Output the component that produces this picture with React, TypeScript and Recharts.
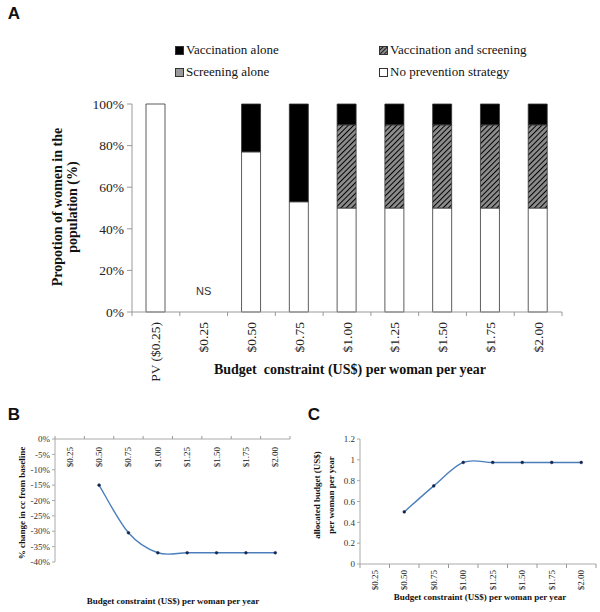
import React from "react";
import {
  Bar,
  BarChart,
  Line,
  LineChart,
  XAxis,
  YAxis,
} from "recharts";

// Panel A
const strategyCats = ["PV ($0.25)", "$0.25", "$0.50", "$0.75", "$1.00", "$1.25", "$1.50", "$1.75", "$2.00"];
const noPrevention = [100, null, 77, 53, 50, 50, 50, 50, 50];
const screeningAlone = [0, null, 0, 0, 0, 0, 0, 0, 0];
const vaccScreening = [0, null, 0, 0, 40, 40, 40, 40, 40];
const vaccAlone = [0, null, 23, 47, 10, 10, 10, 10, 10];
const notes = ["", "NS", "", "", "", "", "", "", ""];
const pctTicks = [0, 20, 40, 60, 80, 100];

// Panels B and C
const budgetCats = ["$0.25", "$0.50", "$0.75", "$1.00", "$1.25", "$1.50", "$1.75", "$2.00"];
const ccChange = [null, -15, -30.5, -37, -37, -37, -37, -37];
const allocated = [null, 0.5, 0.75, 0.975, 0.975, 0.975, 0.975, 0.975];
const ccTicks = [0, -5, -10, -15, -20, -25, -30, -35, -40];
const budgetTicks = [0, 0.2, 0.4, 0.6, 0.8, 1, 1.2];

const stackData = strategyCats.map((name, i) => ({
  name,
  none: noPrevention[i],
  screen: screeningAlone[i],
  both: vaccScreening[i],
  vacc: vaccAlone[i],
  note: notes[i],
}));

const lineData = budgetCats.map((name, i) => ({
  name,
  cc: ccChange[i],
  alloc: allocated[i],
}));

const serif = '"Liberation Serif", "Times New Roman", serif';
const sans = '"Liberation Sans", Arial, sans-serif';

// excel-like smoothed line (catmull-rom through the points)
function excelSmooth(context: any) {
  let pts: number[][] = [];
  return {
    areaStart() {},
    areaEnd() {},
    lineStart() {
      pts = [];
    },
    point(x: number, y: number) {
      pts.push([+x, +y]);
    },
    lineEnd() {
      const n = pts.length;
      if (!n) return;
      context.moveTo(pts[0][0], pts[0][1]);
      for (let i = 0; i < n - 1; i++) {
        const p0 = pts[Math.max(i - 1, 0)];
        const p1 = pts[i];
        const p2 = pts[i + 1];
        const p3 = pts[Math.min(i + 2, n - 1)];
        context.bezierCurveTo(
          p1[0] + (p2[0] - p0[0]) / 6,
          p1[1] + (p2[1] - p0[1]) / 6,
          p2[0] - (p3[0] - p1[0]) / 6,
          p2[1] - (p3[1] - p1[1]) / 6,
          p2[0],
          p2[1]
        );
      }
    },
  };
}

function CatTick(props: any) {
  const { x, y, payload, index, half, count, up, gap, fontSize, note } = props;
  const tickEnd = up ? y - 3 : y + 4;
  const ty = y + gap;
  return (
    <g>
      <line x1={x - half} y1={y} x2={x - half} y2={tickEnd} stroke="#999" strokeWidth={1} />
      {index === count - 1 && (
        <line x1={x + half} y1={y} x2={x + half} y2={tickEnd} stroke="#999" strokeWidth={1} />
      )}
      <text
        x={x}
        y={ty}
        transform={`rotate(-90 ${x} ${ty})`}
        textAnchor="end"
        dominantBaseline="central"
        fontFamily={serif}
        fontSize={fontSize}
        fill="#222"
      >
        {payload.value}
      </text>
      {note && note[index] ? (
        <text x={x} y={y - 17} textAnchor="middle" fontFamily={sans} fontSize={11} fill="#333">
          {note[index]}
        </text>
      ) : null}
    </g>
  );
}

function Swatch({ kind }: { kind: string }) {
  const fill =
    kind === "black" ? "#000" : kind === "gray" ? "#9a9a9a" : kind === "hatch" ? "url(#hatchLegend)" : "#fff";
  return (
    <svg width={9} height={9} style={{ marginRight: 2, flex: "none" }}>
      <defs>
        <pattern id="hatchLegend" patternUnits="userSpaceOnUse" width={3} height={3} patternTransform="rotate(45)">
          <rect width={3} height={3} fill="#8c8c8c" />
          <line x1={0} y1={0} x2={0} y2={3} stroke="#000" strokeWidth={1.6} />
        </pattern>
      </defs>
      <rect x={0.5} y={0.5} width={8} height={8} fill={fill} stroke="#333" strokeWidth={1} />
    </svg>
  );
}

function LegendItem({ kind, label, left, top }: { kind: string; label: string; left: number; top: number }) {
  return (
    <div
      style={{
        position: "absolute",
        left,
        top,
        display: "flex",
        alignItems: "center",
        fontFamily: serif,
        fontSize: 13,
        color: "#111",
        whiteSpace: "nowrap",
      }}
    >
      <Swatch kind={kind} />
      {label}
    </div>
  );
}

function Txt({ x, y, size, children, rotate, bold = true, family = serif, lh }: any) {
  return (
    <div
      style={{
        position: "absolute",
        left: x,
        top: y,
        transform: `translate(-50%, -50%)${rotate ? " rotate(-90deg)" : ""}`,
        fontFamily: family,
        fontSize: size,
        fontWeight: bold ? "bold" : "normal",
        whiteSpace: "nowrap",
        textAlign: "center",
        lineHeight: lh ? `${lh}px` : "normal",
        color: "#111",
      }}
    >
      {children}
    </div>
  );
}

export default function App() {
  return (
    <div style={{ position: "absolute", left: 0, top: 0, width: 600, height: 612, background: "#fff", overflow: "hidden" }}>
      <Txt x={14} y={14} size={17} family={sans}>A</Txt>
      <Txt x={14} y={415} size={17} family={sans}>B</Txt>
      <Txt x={314} y={415} size={17} family={sans}>C</Txt>

      <LegendItem kind="black" label="Vaccination alone" left={175} top={42} />
      <LegendItem kind="hatch" label="Vaccination and screening" left={379} top={42} />
      <LegendItem kind="gray" label="Screening alone" left={175} top={64} />
      <LegendItem kind="white" label="No prevention strategy" left={379} top={64} />

      <div style={{ position: "absolute", left: 0, top: 0 }}>
        <BarChart width={600} height={400} data={stackData} margin={{ top: 104, right: 38, bottom: 28, left: 0 }} barSize={19}>
          <defs>
            <pattern id="hatchBar" patternUnits="userSpaceOnUse" width={3.8} height={3.8} patternTransform="rotate(45)">
              <rect width={3.8} height={3.8} fill="#8c8c8c" />
              <line x1={0} y1={0} x2={0} y2={3.8} stroke="#000" strokeWidth={2} />
            </pattern>
          </defs>
          <XAxis
            dataKey="name"
            height={60}
            interval={0}
            tickSize={0}
            tickMargin={0}
            tickLine={false}
            stroke="#999"
            tick={(p: any) => (
              <CatTick {...p} half={430 / 18} count={strategyCats.length} gap={10} fontSize={13.5} note={notes} />
            )}
          />
          <YAxis
            width={132}
            domain={[0, 100]}
            ticks={pctTicks}
            interval={0}
            tickFormatter={(v: number) => `${v}%`}
            tickSize={5}
            tickMargin={3}
            stroke="#999"
            tick={{ fontFamily: serif, fontSize: 13.5, fill: "#222" }}
          />
          <Bar dataKey="none" stackId="s" fill="#fff" stroke="#333" strokeWidth={0.8} isAnimationActive={false} />
          <Bar dataKey="screen" stackId="s" fill="#9a9a9a" stroke="#333" strokeWidth={0.8} isAnimationActive={false} />
          <Bar dataKey="both" stackId="s" fill="url(#hatchBar)" stroke="#333" strokeWidth={0.8} isAnimationActive={false} />
          <Bar dataKey="vacc" stackId="s" fill="#000" stroke="#333" strokeWidth={0.8} isAnimationActive={false} />
        </BarChart>
      </div>
      <Txt x={65} y={207} size={14} lh={15} rotate>
        Propotion of women in the
        <br />
        population (%)
      </Txt>
      <Txt x={350} y={370} size={14}>
        Budget&nbsp; constraint (US$) per woman per year
      </Txt>

      <div style={{ position: "absolute", left: 0, top: 400 }}>
        <LineChart width={300} height={212} data={lineData} margin={{ top: 38, right: 10, bottom: 50, left: 0 }}>
          <XAxis
            dataKey="name"
            orientation="top"
            height={1}
            interval={0}
            padding={{ left: 14.7, right: 14.7 }}
            tickSize={0}
            tickMargin={0}
            tickLine={false}
            stroke="#aaa"
            tick={(p: any) => <CatTick {...p} half={14.7} count={budgetCats.length} up gap={8} fontSize={9} />}
          />
          <YAxis
            width={55}
            domain={[-40, 0]}
            ticks={ccTicks}
            interval={0}
            tickFormatter={(v: number) => `${v}%`}
            tickSize={3}
            tickMargin={2}
            stroke="#aaa"
            tick={{ fontFamily: serif, fontSize: 9, fill: "#333" }}
          />
          <Line
            dataKey="cc"
            type={excelSmooth as any}
            stroke="#4a7ebb"
            strokeWidth={1.4}
            dot={{ r: 1.4, fill: "#14254f", stroke: "#14254f", strokeWidth: 0.5 }}
            activeDot={false}
            isAnimationActive={false}
          />
        </LineChart>
      </div>
      <Txt x={22} y={503} size={9} rotate>
        % change in cc from baseline
      </Txt>
      <Txt x={173} y={601} size={9}>
        Budget constraint (US$) per woman per year
      </Txt>

      <div style={{ position: "absolute", left: 300, top: 400 }}>
        <LineChart width={300} height={212} data={lineData} margin={{ top: 39, right: 4, bottom: 18, left: 0 }}>
          <XAxis
            dataKey="name"
            height={30}
            interval={0}
            padding={{ left: 14.75, right: 14.75 }}
            tickSize={0}
            tickMargin={0}
            tickLine={false}
            stroke="#aaa"
            tick={(p: any) => <CatTick {...p} half={14.75} count={budgetCats.length} gap={6} fontSize={9} />}
          />
          <YAxis
            width={60}
            domain={[0, 1.2]}
            ticks={budgetTicks}
            interval={0}
            tickFormatter={(v: number) => String(Number(v.toFixed(1)))}
            tickSize={3}
            tickMargin={2}
            stroke="#aaa"
            tick={{ fontFamily: serif, fontSize: 9, fill: "#333" }}
          />
          <Line
            dataKey="alloc"
            type={excelSmooth as any}
            stroke="#4a7ebb"
            strokeWidth={1.4}
            dot={{ r: 1.4, fill: "#14254f", stroke: "#14254f", strokeWidth: 0.5 }}
            activeDot={false}
            isAnimationActive={false}
          />
        </LineChart>
      </div>
      <Txt x={324} y={495} size={9} lh={14} rotate>
        allocated budget (US$)
        <br />
        per woman per year
      </Txt>
      <Txt x={480} y={597} size={9}>
        Budget constraint (US$) per woman per year
      </Txt>
    </div>
  );
}
